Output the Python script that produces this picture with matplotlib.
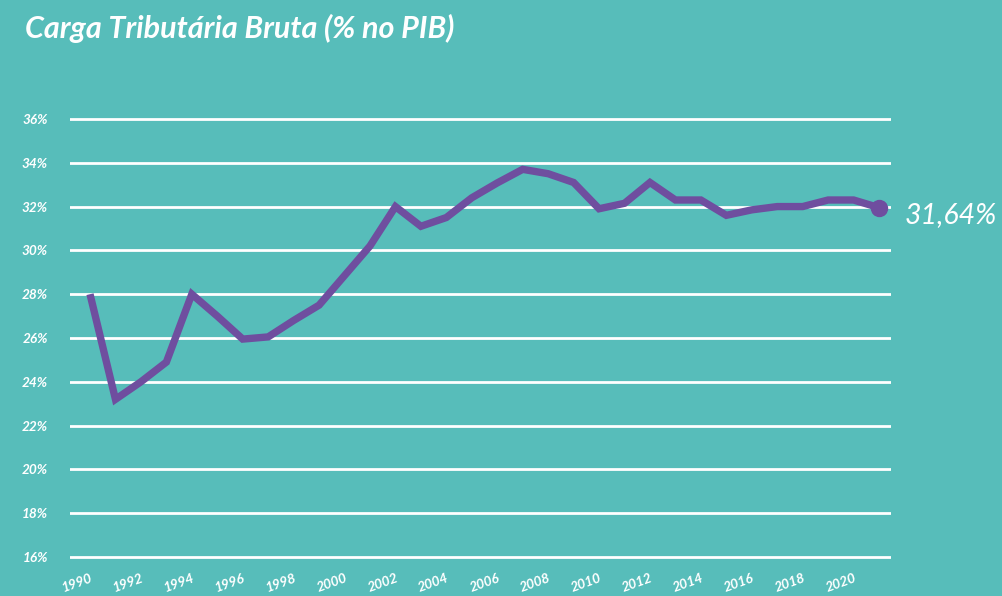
import matplotlib.pyplot as plt

# Carga tributaria bruta, % do PIB
anos = list(range(1990, 2022))
carga = [28.0, 23.2, 24.0, 24.9, 28.0, 27.0, 25.95, 26.05, 26.8, 27.5,
         28.85, 30.2, 32.0, 31.1, 31.5, 32.4, 33.08, 33.7, 33.5, 33.1,
         31.9, 32.15, 33.1, 32.3, 32.3, 31.6, 31.85, 32.0, 32.0, 32.3,
         32.3, 31.95]
rotulo_final = "31,64%"
ticks_y = list(range(16, 38, 2))
ticks_x = list(range(1990, 2022, 2))

bg = '#57bdba'
roxo = '#6f4e9f'
fonte = ['Lato', 'DejaVu Sans']

fig = plt.figure(figsize=(10.02, 5.96), dpi=100, facecolor=bg)
ax = fig.add_axes([70/1002, 28/596, 821/1002, 460/596])
ax.set_facecolor(bg)

ax.plot(anos, carga, color=roxo, lw=5.3, solid_joinstyle='miter',
        solid_capstyle='butt', zorder=3)
ax.plot(anos[-1], carga[-1], 'o', color=roxo, ms=11.5, zorder=4)
ax.text(anos[-1] + 1.0, carga[-1] - 0.35, rotulo_final, color='white',
        fontsize=20.5, style='italic', weight='normal', family=fonte,
        va='center', ha='left', clip_on=False)

ax.set_xlim(1989.214, 2021.47)
ax.set_ylim(15.5, 36.5)
ax.set_yticks(ticks_y)
ax.set_yticklabels([f'{v}%' for v in ticks_y])
ax.set_xticks(ticks_x)
ax.set_xticklabels([str(a) for a in ticks_x], rotation=20, ha='right',
                   rotation_mode='anchor')
ax.yaxis.grid(True, color='white', lw=2)
ax.set_axisbelow(True)
for s in ax.spines.values():
    s.set_visible(False)
ax.tick_params(length=0, colors='white', labelsize=9.8)
ax.tick_params(axis='y', pad=16)
ax.tick_params(axis='x', pad=3)
for lab in ax.get_xticklabels() + ax.get_yticklabels():
    lab.set_family(fonte)
    lab.set_style('italic')
    lab.set_weight('bold')

fig.text(25/1002, 1 - 28/596, 'Carga Tributária Bruta (% no PIB)',
         color='white', fontsize=22, style='italic', weight='bold',
         family=fonte, va='center', ha='left')

fig.savefig('out.png', dpi=100, facecolor=bg)
